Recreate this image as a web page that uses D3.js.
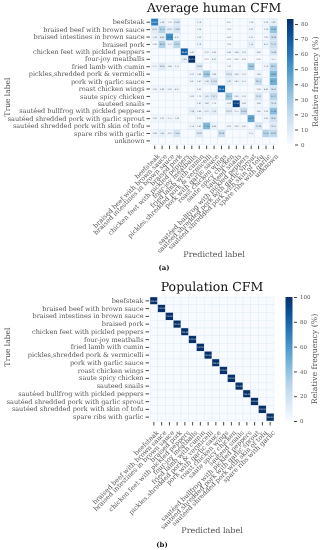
<!DOCTYPE html>
<html>
<head>
<meta charset="utf-8">
<script src="https://cdn.jsdelivr.net/npm/d3@7"></script>
<style>
  body { margin: 0; background: #fff; }
  svg { display: block; will-change: transform; transform: translateZ(0); }
  text { font-family: "DejaVu Serif", "Liberation Serif", serif; fill: #222; text-rendering: geometricPrecision; }
</style>
</head>
<body>
<div id="chart"></div>
<script>
// dish categories (population chart has no "unknown" class)
const dishes = [
  "beefsteak",
  "braised beef with brown sauce",
  "braised intestines in brown sauce",
  "braised pork",
  "chicken feet with pickled peppers",
  "four-joy meatballs",
  "fried lamb with cumin",
  "pickles,shredded pork & vermicelli",
  "pork with garlic sauce",
  "roast chicken wings",
  "saute spicy chicken",
  "sauteed snails",
  "sautéed bullfrog with pickled peppers",
  "sautéed shredded pork with garlic sprout",
  "sautéed shredded pork with skin of tofu",
  "spare ribs with garlic"
];
const humanLabels = dishes.concat(["unknown"]);

// average human CFM, rows = true label, cols = predicted (null = empty cell)
const humanCFM = [
  [58.12, 5.26, 1.03, 10.80, null, null, 3.76, null, null, null, 0.95, null, null, 1.14, null, 3.36, 7.42],
  [8.93, 25.75, 8.03, 13.88, null, null, 3.38, null, null, null, 1.02, null, null, 3.03, null, 3.36, 32.62],
  [5.36, 8.80, 52.14, 4.27, null, null, 3.32, null, null, null, 0.00, null, null, 3.32, null, 1.63, 16.96],
  [0.98, 26.32, 3.73, 23.31, null, null, 3.76, null, null, null, 1.00, null, null, 7.52, null, 4.51, 17.53],
  [null, null, null, null, 68.42, 3.43, null, 3.31, 3.63, null, 3.40, 3.04, 3.03, null, 3.80, null, 12.94],
  [null, null, null, null, 5.98, 83.33, null, 0.01, 4.21, null, 0.00, 0.00, 0.00, null, 0.00, null, 3.75],
  [3.75, 10.85, 3.48, 3.75, null, null, 10.86, null, null, null, 1.30, null, null, 30.43, null, 3.76, 24.37],
  [null, null, null, null, null, 3.21, 3.40, 30.08, 3.80, null, 10.23, 3.09, 3.37, null, 3.80, null, 36.42],
  [null, null, null, null, null, 3.47, 3.41, 7.38, 15.23, null, 7.41, 3.43, 3.75, null, 18.75, null, 40.17],
  [3.03, 3.80, 3.03, 4.27, null, null, 3.03, null, null, 66.54, null, null, null, null, 1.80, 4.83, 14.23],
  [null, null, null, null, null, 3.00, 1.10, 7.87, 12.11, null, 30.77, 3.09, 3.33, null, 13.33, null, 25.17],
  [null, null, null, null, null, null, 3.61, 3.80, 1.10, null, 3.00, 77.53, 3.80, null, 3.40, null, 12.50],
  [null, null, null, null, null, 7.38, 3.40, 5.37, 7.53, null, 10.21, 3.75, 20.26, null, 3.80, 3.02, 35.28],
  [3.00, 3.01, 3.75, 3.00, null, null, 3.33, null, null, null, null, null, null, 45.12, null, 3.03, 16.87],
  [null, null, null, null, null, 3.76, 3.41, 37.38, 4.80, null, 3.02, 3.00, 3.47, null, 13.09, null, 10.35],
  [3.96, 7.45, 3.10, 13.45, null, null, 10.62, null, null, 18.26, null, null, null, 3.75, null, 25.35, 22.03],
  [null, null, null, null, null, null, null, null, null, null, null, null, null, null, null, null, null]
];

// population CFM (every sample on the diagonal)
const populationCFM = [
  [100, 0, 0, 0, 0, 0, 0, 0, 0, 0, 0, 0, 0, 0, 0, 0],
  [0, 100, 0, 0, 0, 0, 0, 0, 0, 0, 0, 0, 0, 0, 0, 0],
  [0, 0, 100, 0, 0, 0, 0, 0, 0, 0, 0, 0, 0, 0, 0, 0],
  [0, 0, 0, 100, 0, 0, 0, 0, 0, 0, 0, 0, 0, 0, 0, 0],
  [0, 0, 0, 0, 100, 0, 0, 0, 0, 0, 0, 0, 0, 0, 0, 0],
  [0, 0, 0, 0, 0, 100, 0, 0, 0, 0, 0, 0, 0, 0, 0, 0],
  [0, 0, 0, 0, 0, 0, 100, 0, 0, 0, 0, 0, 0, 0, 0, 0],
  [0, 0, 0, 0, 0, 0, 0, 100, 0, 0, 0, 0, 0, 0, 0, 0],
  [0, 0, 0, 0, 0, 0, 0, 0, 100, 0, 0, 0, 0, 0, 0, 0],
  [0, 0, 0, 0, 0, 0, 0, 0, 0, 100, 0, 0, 0, 0, 0, 0],
  [0, 0, 0, 0, 0, 0, 0, 0, 0, 0, 100, 0, 0, 0, 0, 0],
  [0, 0, 0, 0, 0, 0, 0, 0, 0, 0, 0, 100, 0, 0, 0, 0],
  [0, 0, 0, 0, 0, 0, 0, 0, 0, 0, 0, 0, 100, 0, 0, 0],
  [0, 0, 0, 0, 0, 0, 0, 0, 0, 0, 0, 0, 0, 100, 0, 0],
  [0, 0, 0, 0, 0, 0, 0, 0, 0, 0, 0, 0, 0, 0, 100, 0],
  [0, 0, 0, 0, 0, 0, 0, 0, 0, 0, 0, 0, 0, 0, 0, 100]
];

const humanTicks = [0, 10, 20, 30, 40, 50, 60, 70, 80];
const popTicks = [0, 20, 40, 60, 80, 100];

const width = 324, height = 550;

let svg = d3.select("#chart")
  .append("svg")
    .attr("width", width)
    .attr("height", height);

function drawCFM(cfg) {
  let g = svg.append("g");
  let n = cfg.labels.length;
  let side = cfg.cell * n;

  let x = d3.scaleBand().domain(d3.range(n)).range([cfg.left, cfg.left + side]);
  let y = d3.scaleBand().domain(d3.range(n)).range([cfg.top, cfg.top + side]);
  let color = d3.scaleSequential(d3.interpolateBlues).domain([0, cfg.vmax]);

  let cells = [];
  cfg.matrix.forEach((row, i) => row.forEach((v, j) => cells.push({ i: i, j: j, v: v })));

  g.selectAll("rect.cell")
    .data(cells)
    .join("rect")
      .attr("class", "cell")
      .attr("x", d => x(d.j))
      .attr("y", d => y(d.i))
      .attr("width", x.bandwidth())
      .attr("height", y.bandwidth())
      .attr("fill", d => color(d.v == null ? 0 : d.v))
      .attr("stroke", "#dde9f5")
      .attr("stroke-width", 0.4);

  // cell annotations (tiny, like seaborn annot)
  g.selectAll("text.annot")
    .data(cells.filter(d => d.v != null && (cfg.showZero || d.v > 0)))
    .join("text")
      .attr("class", "annot")
      .attr("x", d => x(d.j) + x.bandwidth() / 2)
      .attr("y", d => y(d.i) + y.bandwidth() / 2)
      .attr("dy", "0.35em")
      .attr("text-anchor", "middle")
      .attr("font-size", "1.9px")
      .style("fill", d => {
        let c = d3.rgb(color(d.v));
        let lum = (0.2126 * c.r + 0.7152 * c.g + 0.0722 * c.b) / 255;
        return lum > 0.45 ? "#444" : "#fff";
      })
      .text(d => d.v.toFixed(2));

  // y axis (true labels)
  let yAxis = g.append("g")
    .attr("transform", `translate(${cfg.left - 1}, 0)`)
    .call(d3.axisLeft(y).tickSize(3.5).tickPadding(2).tickFormat(i => cfg.labels[i]));
  yAxis.select(".domain").remove();
  yAxis.selectAll("line").attr("stroke", "#333").attr("stroke-width", 0.9);
  yAxis.selectAll("text")
    .attr("font-size", cfg.font + "px")
    .style("fill", "#555");

  // x axis (predicted labels, rotated)
  let xAxis = g.append("g")
    .attr("transform", `translate(0, ${cfg.top + side + 1})`)
    .call(d3.axisBottom(x).tickSize(3.5).tickPadding(2).tickFormat(i => cfg.labels[i]));
  xAxis.select(".domain").remove();
  xAxis.selectAll("line").attr("stroke", "#333").attr("stroke-width", 0.9);
  xAxis.selectAll("text")
    .attr("font-size", cfg.font + "px")
    .style("fill", "#555")
    .attr("text-anchor", "end")
    .attr("dx", "-0.2em")
    .attr("dy", "0.5em")
    .attr("transform", "translate(0,4) rotate(-45)");

  // title
  g.append("text")
    .attr("x", cfg.left + side / 2)
    .attr("y", cfg.titleY)
    .attr("text-anchor", "middle")
    .attr("font-family", "Liberation Serif, serif")
    .attr("font-size", "12.5px")
    .style("fill", "#111")
    .text(cfg.title);

  // axis titles
  g.append("text")
    .attr("transform", `translate(10, ${cfg.trueY}) rotate(-90)`)
    .attr("text-anchor", "middle")
    .attr("font-size", "7.5px")
    .style("fill", "#555")
    .text("True label");

  g.append("text")
    .attr("x", cfg.left + side / 2)
    .attr("y", cfg.predY)
    .attr("text-anchor", "middle")
    .attr("font-size", "8px")
    .style("fill", "#555")
    .text("Predicted label");

  g.append("text")
    .attr("x", cfg.left + side / 2 - 50)
    .attr("y", cfg.capY)
    .attr("text-anchor", "middle")
    .attr("font-size", "7px")
    .attr("font-weight", "bold")
    .style("fill", "#111")
    .text(cfg.caption);

  // colour bar
  let gradId = "grad-" + cfg.caption.replace(/\W/g, "");
  let grad = svg.append("defs").append("linearGradient")
    .attr("id", gradId)
    .attr("x1", 0).attr("y1", 1).attr("x2", 0).attr("y2", 0);
  d3.range(0, 1.0001, 0.1).forEach(t => {
    grad.append("stop").attr("offset", t).attr("stop-color", d3.interpolateBlues(t));
  });

  let cbScale = d3.scaleLinear().domain([0, cfg.vmax]).range([cfg.cbBottom, cfg.cbTop]);
  g.append("rect")
    .attr("x", cfg.cbX)
    .attr("y", cfg.cbTop)
    .attr("width", cfg.cbW)
    .attr("height", cfg.cbBottom - cfg.cbTop)
    .attr("fill", `url(#${gradId})`);

  let cbAxis = g.append("g")
    .attr("transform", `translate(${cfg.cbX + cfg.cbW + 1.5}, 0)`)
    .call(d3.axisRight(cbScale).tickValues(cfg.ticks).tickSize(3).tickPadding(3));
  cbAxis.select(".domain").remove();
  cbAxis.selectAll("line").attr("stroke", "#333").attr("stroke-width", 0.9);
  cbAxis.selectAll("text").attr("font-size", "5.5px").style("fill", "#555");

  g.append("text")
    .attr("transform", `translate(${cfg.cbX + 31}, ${(cfg.cbTop + cfg.cbBottom) / 2}) rotate(-90)`)
    .attr("text-anchor", "middle")
    .attr("font-size", "7.8px")
    .style("fill", "#555")
    .text("Relative frequency (%)");
}

drawCFM({
  labels: humanLabels, matrix: humanCFM, vmax: 83.33, ticks: humanTicks, showZero: true,
  left: 151, top: 18.5, cell: 7.42, font: 6.5,
  title: "Average human CFM", titleY: 12, trueY: 97, predY: 257, capY: 270, caption: "(a)",
  cbX: 287, cbW: 6.5, cbTop: 19, cbBottom: 144.5
});

drawCFM({
  labels: dishes, matrix: populationCFM, vmax: 100, ticks: popTicks, showZero: false,
  left: 150, top: 297, cell: 7.75, font: 6.5,
  title: "Population CFM", titleY: 291, trueY: 347, predY: 533, capY: 547, caption: "(b)",
  cbX: 285.5, cbW: 7, cbTop: 297, cbBottom: 421
});
</script>
</body>
</html>
